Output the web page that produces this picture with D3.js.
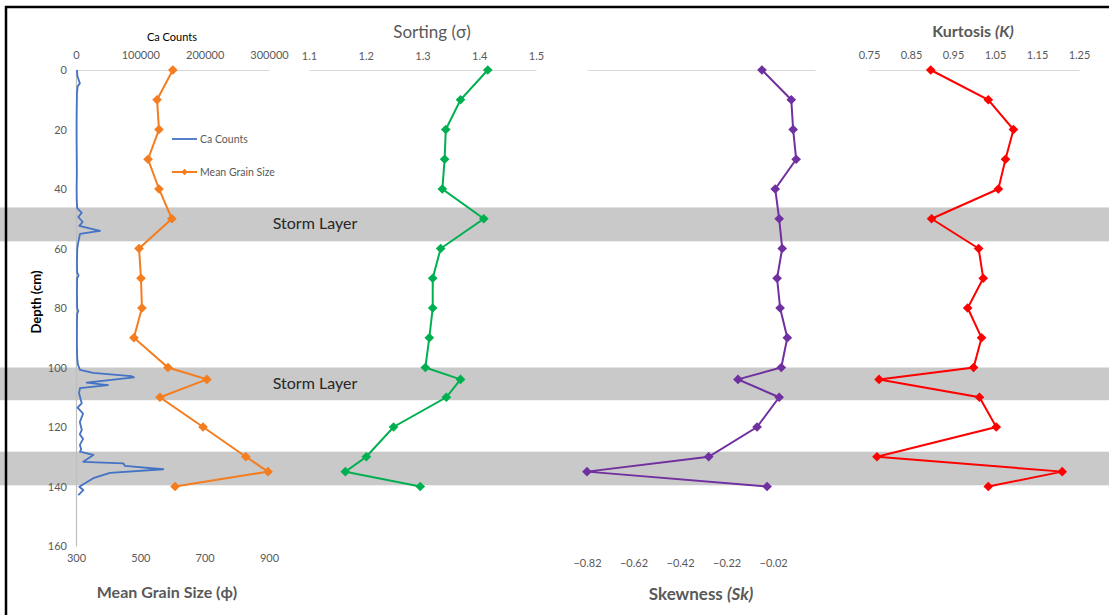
<!DOCTYPE html>
<html>
<head>
<meta charset="utf-8">
<script src="https://cdn.jsdelivr.net/npm/d3@7"></script>
<style>
  body { margin: 0; background: #fff; }
  svg { display: block; font-family: Lato, "Open Sans", sans-serif; }
</style>
</head>
<body>
<div id="chart"></div>
<script>
"use strict";

// sample depths (cm) for the grain size statistics
const depths = [0, 10, 20, 30, 40, 50, 60, 70, 80, 90, 100, 104, 110, 120, 130, 135, 140];
const meanGrain = [601, 552, 558, 524, 558, 598, 496, 502, 505, 480, 586, 707, 561, 695, 828, 897, 608];
const sorting = [1.415, 1.367, 1.341, 1.339, 1.335, 1.408, 1.332, 1.318, 1.318, 1.312, 1.305, 1.367, 1.342, 1.249, 1.201, 1.164, 1.296];
const skewness = [-0.068, 0.058, 0.066, 0.079, -0.011, 0.006, 0.019, -0.003, 0.010, 0.041, 0.015, -0.171, 0.006, -0.089, -0.297, -0.82, -0.046];
const kurtosis = [0.897, 1.034, 1.094, 1.075, 1.058, 0.899, 1.011, 1.022, 0.985, 1.018, 0.999, 0.774, 1.013, 1.053, 0.769, 1.210, 1.034];

// Ca counts (XRF scan)
const caDepth = [0, 2, 3.5, 4.5, 5.5, 8, 12, 16, 20, 25, 30, 35, 40, 44, 46.4, 48, 49.4, 51.1, 52.4, 54.1, 55.1, 57.8,
  60, 65, 68, 69, 70, 75, 80, 81, 82, 86, 90, 94, 97, 99, 100, 100.8, 101.8, 102.9, 103.3, 105.1, 105.9, 106.9, 108.6,
  110.5, 112, 113.5, 115.5, 118.3, 121, 122.5, 124, 126, 127.5, 128.3, 129.4, 131.7, 132.2, 133.1, 134.2, 135.4, 137.2,
  138.9, 140.1, 141.2, 142.9];
const caCounts = [1500, 2200, 4500, 6000, 2500, 1500, 1200, 1000, 900, 1000, 1200, 1300, 1000, 1200, 2000, 8900, 3600, 10400, 5100, 37300, 6200, 3600,
  2000, 1500, 1800, 4000, 1800, 1500, 1800, 3500, 1800, 1500, 1400, 1500, 2000, 3000, 4800, 6200, 26400, 85500, 90000, 16600, 49700, 6200, 4700,
  7000, 9000, 2500, 11000, 6000, 9000, 6000, 11000, 6000, 8000, 6200, 26900, 11300, 73500, 76100, 135700, 52800, 26900,
  14000, 5100, 11300, 3600];

// storm layer depth bands [top, bottom]
const bands = [[46.2, 57.6], [100, 111], [128.3, 139.6]];
const bandLabels = ["Storm Layer", "Storm Layer", null];

const depthTicks = [0, 20, 40, 60, 80, 100, 120, 140, 160];
const caTicks = [0, 100000, 200000, 300000];
const grainTicks = [300, 500, 700, 900];
const sortTicks = [1.1, 1.2, 1.3, 1.4, 1.5];
const skewTicks = [-0.82, -0.62, -0.42, -0.22, -0.02];
const kurtTicks = [0.75, 0.85, 0.95, 1.05, 1.15, 1.25];

const W = 1109, H = 615;
const tickColor = "#595959";

const svg = d3.select("#chart").append("svg")
  .attr("width", W)
  .attr("height", H);

const y = d3.scaleLinear().domain([0, 160]).range([70, 546]);
const xCa = d3.scaleLinear().domain([0, 300000]).range([76, 269]);
const xGrain = d3.scaleLinear().domain([300, 900]).range([76, 269]);
const xSort = d3.scaleLinear().domain([1.1, 1.5]).range([309, 536]);
const xSkew = d3.scaleLinear().domain([-0.82, 0.16]).range([587, 815]);
const xKurt = d3.scaleLinear().domain([0.75, 1.25]).range([869, 1079]);

// gray storm bands
svg.selectAll(".band")
  .data(bands)
  .enter()
  .append("rect")
  .attr("x", 0)
  .attr("width", W)
  .attr("y", d => y(d[0]))
  .attr("height", d => y(d[1]) - y(d[0]))
  .attr("fill", "#c9c9c9");

svg.selectAll(".bandLabel")
  .data(bands.filter((d, i) => bandLabels[i]))
  .enter()
  .append("text")
  .attr("x", 315)
  .attr("y", d => (y(d[0]) + y(d[1])) / 2 + 5)
  .attr("text-anchor", "middle")
  .style("font-size", "16px")
  .attr("fill", "#262626")
  .text("Storm Layer");

// style an axis group: gray line, no ticks
function styleAxis(g, showLine) {
  g.selectAll("text").attr("fill", tickColor).style("font-size", "11px").style("font-family", "Lato, sans-serif");
  g.selectAll(".tick line").remove();
  if (showLine) {
    g.select(".domain").attr("stroke", "#d9d9d9").attr("stroke-width", 1.2);
  } else {
    g.select(".domain").remove();
  }
}

// depth axis
svg.append("g")
  .attr("transform", "translate(76,0)")
  .call(d3.axisLeft(y).tickValues(depthTicks).tickSize(0).tickSizeOuter(0).tickPadding(9))
  .call(g => styleAxis(g, true))
  .call(g => g.select(".domain").attr("stroke", "#bfbfbf"));

// top axes
svg.append("g").attr("transform", "translate(0,70)")
  .call(d3.axisTop(xCa).tickValues(caTicks).tickSize(0).tickSizeOuter(0).tickPadding(11).tickFormat(d3.format("d")))
  .call(g => styleAxis(g, true));
svg.append("g").attr("transform", "translate(0,70)")
  .call(d3.axisTop(xSort).tickValues(sortTicks).tickSize(0).tickSizeOuter(0).tickPadding(10).tickFormat(d3.format(".1f")))
  .call(g => styleAxis(g, true));
svg.append("g").attr("transform", "translate(0,70)")
  .call(d3.axisTop(xSkew).tickValues([]).tickSize(0).tickSizeOuter(0))
  .call(g => styleAxis(g, true));
svg.append("g").attr("transform", "translate(0,70)")
  .call(d3.axisTop(xKurt).tickValues(kurtTicks).tickSize(0).tickSizeOuter(0).tickPadding(11).tickFormat(d3.format(".2f")))
  .call(g => styleAxis(g, true));

// bottom axes (labels only)
svg.append("g").attr("transform", "translate(0,548)")
  .call(d3.axisBottom(xGrain).tickValues(grainTicks).tickSize(0).tickPadding(6))
  .call(g => styleAxis(g, false));
svg.append("g").attr("transform", "translate(0,553)")
  .call(d3.axisBottom(xSkew).tickValues(skewTicks).tickSize(0).tickPadding(6).tickFormat(d3.format(".2f")))
  .call(g => styleAxis(g, false));

// Ca counts line
const caData = caDepth.map((d, i) => ({ depth: d, v: caCounts[i] }));
svg.append("path")
  .datum(caData)
  .attr("fill", "none")
  .attr("stroke", "#4472c4")
  .attr("stroke-width", 1.8)
  .attr("stroke-linejoin", "round")
  .attr("d", d3.line().x(d => xCa(d.v)).y(d => y(d.depth)));

const diamond = d3.symbol().type(d3.symbolDiamond2).size(60);

// draw one depth profile with diamond markers
function drawProfile(values, scale, color) {
  const rows = depths.map((d, i) => ({ depth: d, v: values[i] }));
  svg.append("path")
    .datum(rows)
    .attr("fill", "none")
    .attr("stroke", color)
    .attr("stroke-width", 2)
    .attr("d", d3.line().x(d => scale(d.v)).y(d => y(d.depth)));
  svg.append("g").selectAll("path")
    .data(rows)
    .enter()
    .append("path")
    .attr("d", diamond)
    .attr("transform", d => "translate(" + scale(d.v) + "," + y(d.depth) + ")")
    .attr("fill", color);
}

drawProfile(meanGrain, xGrain, "#f47d20");
drawProfile(sorting, xSort, "#00b050");
drawProfile(skewness, xSkew, "#7030a0");
drawProfile(kurtosis, xKurt, "#ff0000");

// legend
const legend = svg.append("g").style("font-size", "10.5px");
legend.append("line").attr("x1", 172).attr("x2", 197).attr("y1", 139).attr("y2", 139)
  .attr("stroke", "#4472c4").attr("stroke-width", 1.8);
legend.append("text").attr("x", 200).attr("y", 143).attr("fill", tickColor).text("Ca Counts");
legend.append("line").attr("x1", 172).attr("x2", 197).attr("y1", 172).attr("y2", 172)
  .attr("stroke", "#f47d20").attr("stroke-width", 2);
legend.append("path").attr("d", d3.symbol().type(d3.symbolDiamond2).size(25))
  .attr("transform", "translate(184.5,172)").attr("fill", "#f47d20");
legend.append("text").attr("x", 200).attr("y", 176).attr("fill", tickColor).text("Mean Grain Size");

// titles
svg.append("text").attr("x", 172).attr("y", 41).attr("text-anchor", "middle")
  .style("font-size", "11px").attr("fill", "#000").text("Ca Counts");

svg.append("text").attr("x", 432).attr("y", 38).attr("text-anchor", "middle")
  .style("font-size", "17px").attr("fill", tickColor).text("Sorting (σ)");

const kt = svg.append("text").attr("x", 973).attr("y", 37).attr("text-anchor", "middle")
  .style("font-size", "16px").style("font-weight", "bold").attr("fill", tickColor);
kt.append("tspan").text("Kurtosis ");
kt.append("tspan").style("font-style", "italic").text("(K)");

svg.append("text").attr("x", 167).attr("y", 598).attr("text-anchor", "middle")
  .style("font-size", "16px").style("font-weight", "bold").attr("fill", tickColor).text("Mean Grain Size (ϕ)");

const st = svg.append("text").attr("x", 701).attr("y", 600).attr("text-anchor", "middle")
  .style("font-size", "17px").style("font-weight", "bold").attr("fill", tickColor);
st.append("tspan").text("Skewness ");
st.append("tspan").style("font-style", "italic").text("(Sk)");

svg.append("text")
  .attr("transform", "translate(41,302) rotate(-90)")
  .attr("text-anchor", "middle")
  .style("font-size", "13px").style("font-weight", "bold").attr("fill", "#000")
  .text("Depth (cm)");

// black frame (top and left edges visible)
svg.append("path")
  .attr("d", "M6," + H + " V7 H" + W)
  .attr("fill", "none")
  .attr("stroke", "#000")
  .attr("stroke-width", 2.5);
</script>
</body>
</html>
